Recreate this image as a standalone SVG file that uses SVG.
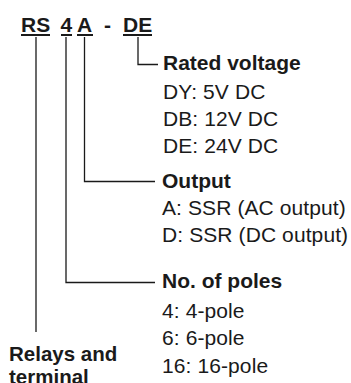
<svg xmlns="http://www.w3.org/2000/svg" width="351" height="383" viewBox="0 0 351 383">
<style>
text{font-family:"Liberation Sans",Arial,sans-serif;font-size:21px;fill:#1a1a1a;letter-spacing:0.1px}
.b{font-weight:bold;letter-spacing:0}
.ln{fill:none;stroke:#1a1a1a;stroke-width:1.3}
.ul{fill:none;stroke:#1a1a1a;stroke-width:1.8}
</style>
<rect width="351" height="383" fill="#fff"/>
<g id="code">
<text class="b" x="21" y="32">RS</text>
<text class="b" x="60.5" y="32">4</text>
<text class="b" x="77" y="32">A</text>
<text class="b" x="104" y="32">-</text>
<text class="b" x="123" y="32">DE</text>
<path class="ul" d="M21 35H50M61 35H72M77 35H93M123 35H152"/>
</g>
<g id="connectors">
<path class="ln" d="M138 37V64.5H158"/>
<path class="ln" d="M84.5 37V181.5H155"/>
<path class="ln" d="M66 37V282.5H155"/>
<path class="ln" d="M36 37V332"/>
</g>
<g id="rated-voltage">
<text class="b" x="163" y="70">Rated voltage</text>
<text x="163" y="99">DY: 5V DC</text>
<text x="163" y="126">DB: 12V DC</text>
<text x="163" y="153">DE: 24V DC</text>
</g>
<g id="output">
<text class="b" x="162" y="188">Output</text>
<text x="162" y="215">A: SSR (AC output)</text>
<text x="162" y="242">D: SSR (DC output)</text>
</g>
<g id="poles">
<text class="b" x="162" y="288">No. of poles</text>
<text x="162" y="318">4: 4-pole</text>
<text x="162" y="345">6: 6-pole</text>
<text x="162" y="373">16: 16-pole</text>
</g>
<g id="relays">
<text class="b" x="9" y="361" style="font-size:20.5px">Relays and</text>
<text class="b" x="9" y="384" style="font-size:20.5px">terminal</text>
</g>
</svg>
